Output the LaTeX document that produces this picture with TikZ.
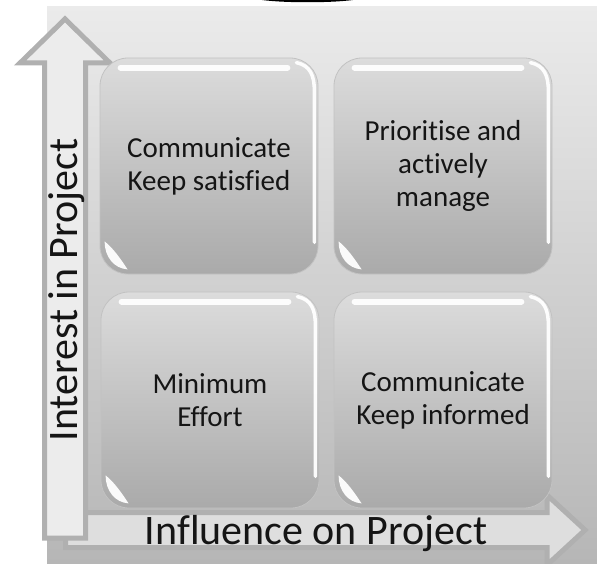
\documentclass[tikz,border=0pt]{standalone}
\usepackage{fontspec}
\setmainfont{Carlito}[Ligatures=NoCommon]
\usetikzlibrary{calc}
\definecolor{panTop}{HTML}{EBEBEB}
\definecolor{panBot}{HTML}{B6B6B6}
\definecolor{boxTop}{HTML}{DCDCDC}
\definecolor{boxBot}{HTML}{AAAAAA}
\definecolor{boxRim}{HTML}{C2C2C2}
\definecolor{arrFillV}{HTML}{ECECEC}
\definecolor{arrFillH}{HTML}{DEDEDE}
\definecolor{arrLine}{HTML}{B0B0B0}
\definecolor{txt}{HTML}{151515}
\tikzset{
  quad/.style={rounded corners=28pt, top color=boxTop, bottom color=boxBot,
    draw=boxRim, line width=0.8pt, minimum width=218pt, minimum height=216pt,
    align=center, text=txt, font=\fontsize{29}{33}\selectfont, inner sep=0pt},
  axisarrow/.style={draw=arrLine, line width=5pt, line join=miter},
  axislabel/.style={text=txt, font=\fontsize{42}{46}\selectfont, inner sep=0pt, anchor=base},
  glossTop/.style={white, line width=6pt, line cap=round, opacity=0.92},
  glossSide/.style={white, line width=3.5pt, line cap=round, opacity=0.95},
  glossBlob/.style={white, opacity=0.95},
}
\begin{document}
\begin{tikzpicture}[x=1pt,y=-1pt]
\useasboundingbox (0,0) rectangle (597,564);
% background panel
\fill[top color=panTop, bottom color=panBot] (47,5) rectangle (597,564);
\draw[white, line width=1.5pt] (47,5) -- (597,5);
% black cut-off shape at top
\fill[black] (262,0) .. controls (285,3) and (330,3) .. (353,0) -- cycle;
% horizontal arrow
\draw[axisarrow, fill=arrFillH] (65.5,512.5) -- (547,512.5) -- (547,495) -- (585,530)
  -- (547,565) -- (547,547.5) -- (65.5,547.5) -- cycle;
% vertical arrow
\draw[axisarrow, fill=arrFillV] (44.5,538) -- (44.5,63) -- (20,63) -- (65,19)
  -- (110,63) -- (85.5,63) -- (85.5,538) -- cycle;
% quadrants
\node[quad] (tl) at (209,166) {Communicate\\Keep satisfied};
\node[quad] (tr) at (443,166) {Prioritise and\\actively\\manage};
\node[quad] (bl) at (210,400) {Minimum\\Effort};
\node[quad] (br) at (443,400) {Communicate\\Keep informed};
% gloss highlights
\foreach \b in {tl,tr,bl,br}{
  \draw[glossTop] ([shift={(21,10)}]\b.north west) -- ([shift={(-31,10)}]\b.north east);
  \draw[glossSide] ([shift={(-22,5)}]\b.north east) .. controls ([shift={(-8,8)}]\b.north east)
     and ([shift={(-4,18)}]\b.north east) .. ([shift={(-4,34)}]\b.north east)
     -- ([shift={(-4,-32)}]\b.south east);
  \fill[glossBlob] ([shift={(5,-33)}]\b.south west) .. controls ([shift={(5,-18)}]\b.south west)
     and ([shift={(14,-6)}]\b.south west) .. ([shift={(28,-5)}]\b.south west)
     .. controls ([shift={(22,-14)}]\b.south west) and ([shift={(14,-26)}]\b.south west)
     .. cycle;
}
% axis labels
\node[axislabel] (xl) at (316,544) {Influence on Project};
\node[axislabel, rotate=90] (yl) at (77,290) {Interest in Project};
\end{tikzpicture}
\end{document}
